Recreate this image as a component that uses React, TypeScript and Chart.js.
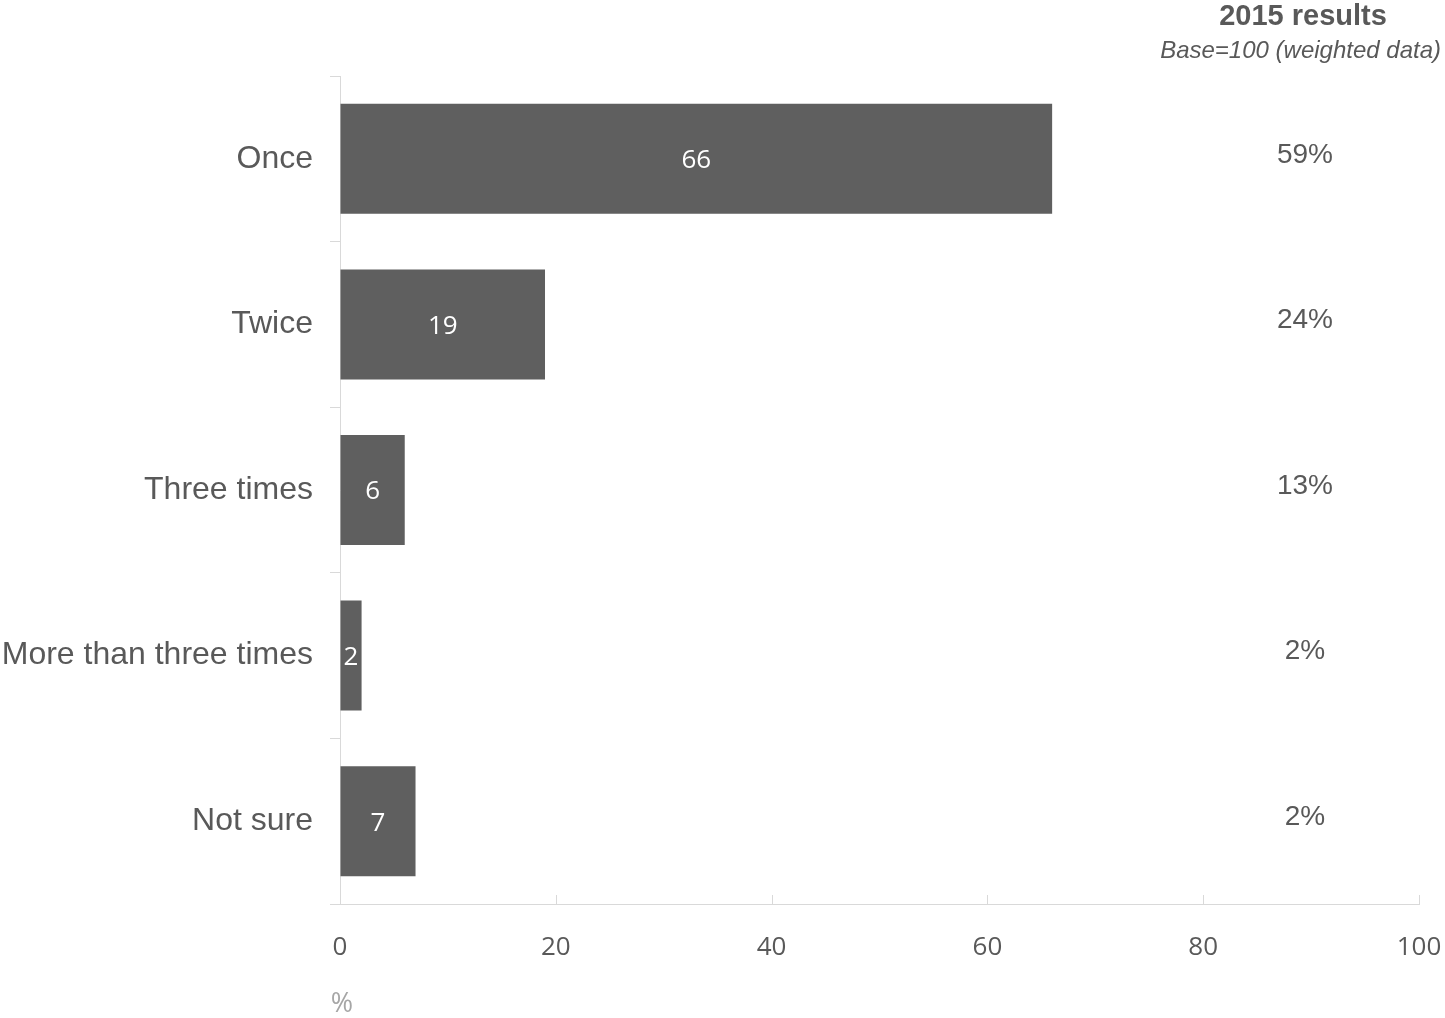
import React, { useEffect, useRef } from "react";
import { Chart, registerables } from "chart.js";

Chart.register(...registerables);

const categories = ["Once", "Twice", "Three times", "More than three times", "Not sure"];
const values = [66, 19, 6, 2, 7];
const results2015 = ["59%", "24%", "13%", "2%", "2%"];
const xMin = 0;
const xMax = 100;
const xStep = 20;
const headerTitle = "2015 results";
const headerSubtitle = "Base=100 (weighted data)";
const axisUnit = "%";

const TEXT = "#595959";
const LINE = "#d9d9d9";
const BAR = "#5f5f5f";

export default function App() {
  const ref = useRef<HTMLCanvasElement | null>(null);

  useEffect(() => {
    document.body.style.margin = "0";
    const canvas = ref.current;
    if (!canvas) return;

    const overlay = {
      id: "overlay",
      afterDraw(chart: any) {
        const ctx = chart.ctx;
        const xs = chart.scales.x;
        const ys = chart.scales.y;
        const area = chart.chartArea;
        ctx.save();
        // upward x tick marks
        ctx.strokeStyle = LINE;
        ctx.lineWidth = 1;
        for (let v = xMin; v <= xMax; v += xStep) {
          const px = Math.round(xs.getPixelForValue(v)) + 0.5;
          ctx.beginPath();
          ctx.moveTo(px, area.bottom);
          ctx.lineTo(px, area.bottom - 9);
          ctx.stroke();
        }
        // data labels inside bars
        const meta = chart.getDatasetMeta(0);
        ctx.fillStyle = "#ffffff";
        ctx.font = "26px 'Open Sans'";
        ctx.textAlign = "center";
        ctx.textBaseline = "middle";
        meta.data.forEach((el: any, i: number) => {
          const cx = (el.x + el.base) / 2;
          ctx.fillText(String(values[i]), cx, el.y + 2);
        });
        // right-side 2015 results
        ctx.fillStyle = TEXT;
        ctx.font = "28px 'Liberation Sans'";
        results2015.forEach((t, i) => {
          const y = ys.getPixelForValue(i);
          ctx.fillText(t, 1305, y - 4);
        });
        // header
        ctx.font = "bold 29px 'Liberation Sans'";
        ctx.fillText(headerTitle, 1303, 17);
        ctx.font = "italic 24px 'Liberation Sans'";
        ctx.textAlign = "right";
        ctx.fillText(headerSubtitle, 1441, 51);
        // unit
        ctx.textAlign = "center";
        ctx.fillStyle = "#a6a6a6";
        ctx.font = "27px 'Open Sans'";
        ctx.fillText(axisUnit, 342, 1004);
        ctx.restore();
      },
    };

    const chart = new Chart(canvas, {
      type: "bar",
      data: {
        labels: categories,
        datasets: [
          {
            data: values,
            backgroundColor: BAR,
            borderWidth: 0,
            categoryPercentage: 1,
            barPercentage: 0.664,
          },
        ],
      },
      options: {
        indexAxis: "y",
        animation: false,
        responsive: false,
        maintainAspectRatio: false,
        layout: { padding: { top: 76, right: 26, bottom: 0, left: 0 } },
        plugins: {
          legend: { display: false },
          tooltip: { enabled: false },
          title: { display: false },
        },
        scales: {
          x: {
            type: "linear",
            min: xMin,
            max: xMax,
            ticks: {
              stepSize: xStep,
              color: TEXT,
              font: { family: "'Open Sans'", size: 26 },
              padding: 28,
              maxRotation: 0,
            },
            grid: { drawOnChartArea: false, drawTicks: false, color: LINE },
            border: { display: true, color: LINE, width: 1 },
            afterFit: (s: any) => {
              s.height = 114;
              s.paddingLeft = 0;
              s.paddingRight = 0;
            },
          },
          y: {
            type: "category",
            ticks: {
              color: TEXT,
              font: { family: "'Liberation Sans'", size: 32 },
              padding: 17,
            },
            grid: {
              offset: true,
              drawOnChartArea: false,
              drawTicks: true,
              tickLength: 10,
              color: LINE,
            },
            border: { display: true, color: LINE, width: 1 },
            afterFit: (s: any) => {
              s.width = 340;
            },
          },
        },
      },
      plugins: [overlay],
    } as any);

    return () => chart.destroy();
  }, []);

  return (
    <div style={{ width: 1445, height: 1018 }}>
      <canvas ref={ref} width={1445} height={1018} style={{ display: "block" }} />
    </div>
  );
}
